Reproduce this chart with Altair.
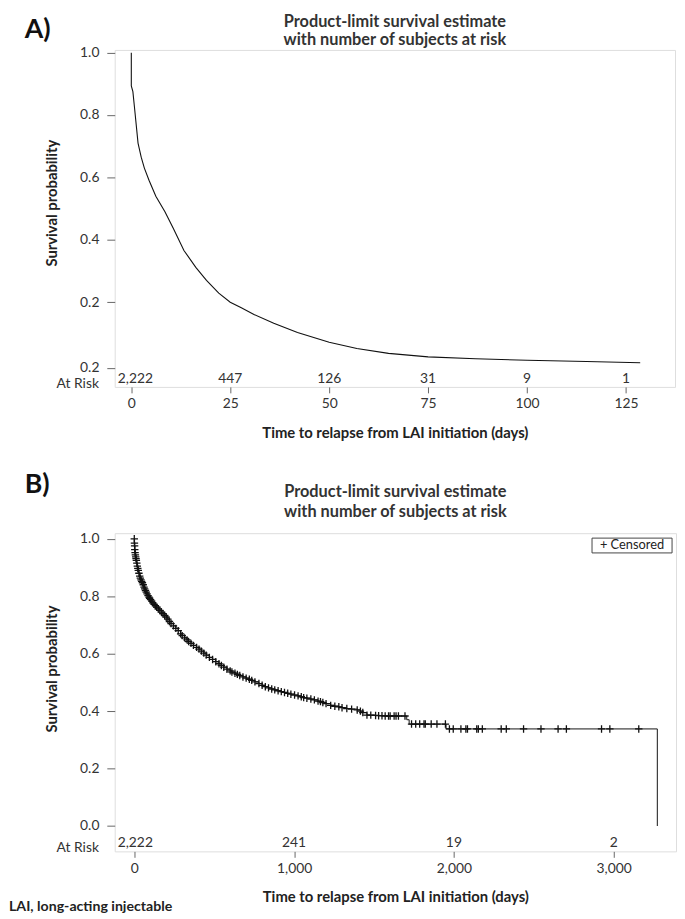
import altair as alt
import pandas as pd

FONT = "Lato"
TXT = "#333333"
FRAME = "#666666"

title_lines = ["Product-limit survival estimate", "with number of subjects at risk"]
x_title = "Time to relapse from LAI initiation (days)"
y_title = "Survival probability"
footnote = "LAI, long-acting injectable"

# ---------------- Panel A ----------------
a_time = [0, 0, 0.4, 0.8, 1.7, 2.5, 3.3, 4.5, 6.2, 8.5, 10.6, 13.3, 16.3, 19, 22.1,
          25, 27.8, 31, 36, 42, 50, 57, 65, 75, 87, 100, 115, 128.6]
a_surv = [1.0, 0.893, 0.875, 0.825, 0.71, 0.665, 0.63, 0.59, 0.54, 0.49, 0.437, 0.366,
          0.312, 0.27, 0.229, 0.2, 0.182, 0.161, 0.133, 0.103, 0.072, 0.052, 0.036,
          0.025, 0.019, 0.014, 0.01, 0.006]
a_risk_time = [0, 25, 50, 75, 100, 125]
a_risk_n = ["2,222", "447", "126", "31", "9", "1"]
a_xticks = [0, 25, 50, 75, 100, 125]
a_yticks = [1.0, 0.8, 0.6, 0.4, 0.2, -0.01]

# ---------------- Panel B ----------------
b_time = [0, 1, 2, 3, 5, 7, 9, 11, 13, 16,
          19, 22, 25, 29, 34, 38, 42, 46, 51, 56,
          61, 65, 70, 75, 80, 86, 92, 96, 102, 109,
          116, 124, 132, 140, 150, 160, 170, 180, 190, 200,
          210, 220, 230, 245, 260, 275, 290, 300, 315, 330,
          340, 355, 370, 390, 405, 420, 435, 450, 470, 490,
          510, 530, 545, 560, 580, 600, 611, 630, 645, 660,
          680, 700, 720, 735, 755, 780, 800, 820, 840, 860,
          879, 900, 920, 940, 960, 980, 1003, 1025, 1045, 1060,
          1080, 1105, 1127, 1150, 1165, 1180, 1200, 1229, 1255, 1280,
          1300, 1330, 1360, 1395, 1415, 1430, 1456, 1480, 1510, 1529,
          1550, 1570, 1591, 1601, 1626, 1638, 1653, 1694, 1705, 1720,
          1735, 1761, 1786, 1813, 1821, 1858, 1894, 1947, 1951, 1972,
          1996, 2044, 2075, 2085, 2143, 2153, 2178, 2296, 2328, 2436,
          2545, 2652, 2704, 2924, 2976, 3157, 3273]
b_surv = [1.000, 0.985, 0.975, 0.962, 0.952, 0.944, 0.937, 0.931, 0.925, 0.915,
          0.905, 0.897, 0.890, 0.880, 0.870, 0.863, 0.857, 0.852, 0.847, 0.840,
          0.832, 0.826, 0.820, 0.814, 0.808, 0.802, 0.797, 0.793, 0.788, 0.783,
          0.777, 0.772, 0.767, 0.762, 0.756, 0.751, 0.745, 0.739, 0.733, 0.727,
          0.720, 0.712, 0.705, 0.697, 0.688, 0.680, 0.669, 0.663, 0.655, 0.648,
          0.642, 0.636, 0.629, 0.622, 0.616, 0.609, 0.602, 0.595, 0.587, 0.580,
          0.572, 0.565, 0.559, 0.553, 0.546, 0.540, 0.536, 0.532, 0.528, 0.524,
          0.519, 0.515, 0.511, 0.507, 0.502, 0.496, 0.490, 0.485, 0.481, 0.477,
          0.474, 0.471, 0.468, 0.465, 0.462, 0.459, 0.456, 0.453, 0.450, 0.447,
          0.445, 0.442, 0.439, 0.435, 0.433, 0.430, 0.426, 0.420, 0.417, 0.415,
          0.412, 0.409, 0.407, 0.404, 0.400, 0.395, 0.386, 0.386, 0.385, 0.384,
          0.384, 0.383, 0.383, 0.383, 0.383, 0.383, 0.383, 0.383, 0.370, 0.355,
          0.355, 0.355, 0.355, 0.355, 0.355, 0.355, 0.355, 0.355, 0.338, 0.338,
          0.338, 0.338, 0.338, 0.338, 0.338, 0.338, 0.338, 0.338, 0.338, 0.338,
          0.338, 0.338, 0.338, 0.338, 0.338, 0.338, 0.000]
b_event_times = [1705, 1720, 1951, 3273]   # uncensored steps (no '+' mark)
b_risk_time = [0, 1000, 2000, 3000]
b_risk_n = ["2,222", "241", "19", "2"]
b_xticks = [0, 1000, 2000, 3000]
b_yticks = [0.0, 0.2, 0.4, 0.6, 0.8, 1.0]

WA, HA = 567, 341
WB, HB = 568, 322


def axes(xdom, ydom, xticks, xfmt, yticks, ylabexpr, ytitle_y):
    x = alt.X("t:Q", scale=alt.Scale(domain=xdom, nice=False, zero=False),
              axis=alt.Axis(values=xticks, format=xfmt, title=x_title, titleFont=FONT,
                            titleFontSize=15, titleFontWeight="bold", titleColor="#222222",
                            titlePadding=15, labelFont=FONT, labelFontSize=14,
                            labelColor=TXT, labelPadding=4, tickSize=6, tickColor=FRAME,
                            domain=False, grid=False, labelFlush=False))
    y = alt.Y("s:Q", scale=alt.Scale(domain=ydom, nice=False, zero=False),
              axis=alt.Axis(values=yticks, labelExpr=ylabexpr, title=y_title,
                            titleFont=FONT, titleFontSize=15, titleFontWeight="bold",
                            titleColor="#222222", titlePadding=20, titleY=ytitle_y,
                            labelFont=FONT, labelFontSize=14, labelColor=TXT,
                            labelPadding=8, tickSize=8, tickColor=FRAME, domain=False,
                            grid=False, labelOverlap=False))
    return x, y


def texts(W, H, letter, letter_y, t1_y, t2_y, risk_df, x, first_dx):
    first = alt.Chart(risk_df.iloc[:1]).mark_text(
        align="left", baseline="middle", font=FONT, fontSize=14, color=TXT, dx=first_dx
    ).encode(x=x, y=alt.value(H - 8), text="n:N")
    rest = alt.Chart(risk_df.iloc[1:]).mark_text(
        align="center", baseline="middle", font=FONT, fontSize=14, color=TXT
    ).encode(x=x, y=alt.value(H - 8), text="n:N")
    lab = pd.DataFrame({"txt": ["At Risk"]})
    atrisk = alt.Chart(lab).mark_text(
        align="right", baseline="middle", font=FONT, fontSize=14, color=TXT
    ).encode(x=alt.value(-16), y=alt.value(H - 3), text="txt:N")
    let = alt.Chart(pd.DataFrame({"txt": [letter]})).mark_text(
        align="left", baseline="middle", font=FONT, fontSize=27, fontWeight="bold",
        color="#111111"
    ).encode(x=alt.value(-91), y=alt.value(letter_y), text="txt:N")
    ttl1 = alt.Chart(pd.DataFrame({"txt": [title_lines[0]]})).mark_text(
        align="center", baseline="middle", font=FONT, fontSize=16.5, fontWeight="bold",
        color="#333333"
    ).encode(x=alt.value(W / 2), y=alt.value(t1_y), text="txt:N")
    ttl2 = alt.Chart(pd.DataFrame({"txt": [title_lines[1]]})).mark_text(
        align="center", baseline="middle", font=FONT, fontSize=16.5, fontWeight="bold",
        color="#333333"
    ).encode(x=alt.value(W / 2), y=alt.value(t2_y), text="txt:N")
    return [first, rest, atrisk, let, ttl1, ttl2]


# ---- Panel A
a_dom_x = [-4.19, 137.4]
a_dom_y = [-0.0714, 1.0086]
a_curve = pd.DataFrame({"t": a_time, "s": a_surv, "i": list(range(len(a_time)))})
a_risk = pd.DataFrame({"t": a_risk_time, "n": a_risk_n})
ax, ay = axes(a_dom_x, a_dom_y, a_xticks, "d", a_yticks,
              "datum.value < 0 ? '0.2' : format(datum.value, '.1f')", HA / 2 - 16)
a_line = alt.Chart(a_curve).mark_line(color="#111111", strokeWidth=1.1).encode(
    x=ax, y=ay, order="i:Q")
panel_a = alt.layer(
    a_line, *texts(WA, HA, "A)", -20, -28, -10, a_risk, ax, -13.7)
).properties(width=WA, height=HA)

# ---- Panel B
b_dom_x = [-122.4, 3390]
b_dom_y = [-0.0883, 1.0196]
b_curve = pd.DataFrame({"t": b_time, "s": b_surv, "i": list(range(len(b_time)))})
b_cens = b_curve[~b_curve["t"].isin(b_event_times)]
b_risk = pd.DataFrame({"t": b_risk_time, "n": b_risk_n})
bx, by = axes(b_dom_x, b_dom_y, b_xticks, ",d", b_yticks, "format(datum.value, '.1f')",
              HB / 2 - 24)
b_line = alt.Chart(b_curve).mark_line(
    color="#111111", strokeWidth=1, interpolate="step-after").encode(
    x=bx, y=by, order="i:Q")
b_marks = alt.Chart(b_cens).mark_point(
    shape="M-1,0L1,0M0,-1L0,1", size=56, color="#111111", strokeWidth=1.3,
    filled=False, opacity=1).encode(x=bx, y=by)
leg_box = alt.Chart(pd.DataFrame({"k": [0]})).mark_rect(
    fill="white", stroke="#444444", strokeWidth=1).encode(
    x=alt.value(WB - 85), x2=alt.value(WB - 4), y=alt.value(5), y2=alt.value(20))
leg_txt = alt.Chart(pd.DataFrame({"txt": ["+ Censored"]})).mark_text(
    align="center", baseline="middle", font=FONT, fontSize=13, color="#222222").encode(
    x=alt.value(WB - 44.5), y=alt.value(12.5), text="txt:N")
foot = alt.Chart(pd.DataFrame({"txt": [footnote]})).mark_text(
    align="left", baseline="middle", font=FONT, fontSize=14.3, fontWeight="bold",
    color="#222222").encode(x=alt.value(-107), y=alt.value(HB + 56), text="txt:N")
panel_b = alt.layer(
    b_line, b_marks, leg_box, leg_txt, foot,
    *texts(WB, HB, "B)", -49, -42, -21, b_risk, bx, -16.8)
).properties(width=WB, height=HB)

chart = alt.vconcat(panel_a, panel_b, spacing=29).properties(padding=0).configure_view(
    stroke=FRAME, strokeWidth=1).configure(font=FONT)

chart.save("out.html", embed_options={"renderer": "svg", "actions": False})
